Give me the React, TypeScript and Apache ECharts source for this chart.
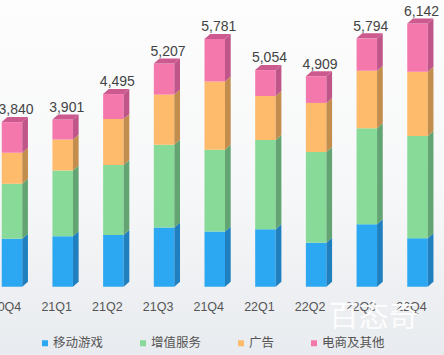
import React, { useEffect, useRef } from "react";
import * as echarts from "echarts";

const categories = ["20Q4", "21Q1", "21Q2", "21Q3", "21Q4", "22Q1", "22Q2", "22Q3", "22Q4"];
const mobileGames = [1119, 1175, 1206, 1379, 1285, 1339, 1025, 1456, 1129];
const valueAdded = [1282, 1537, 1633, 1934, 1909, 2083, 2120, 2239, 2386];
const advertising = [725, 723, 1073, 1169, 1596, 1026, 1142, 1344, 1499];
const ecommerce = [714, 466, 583, 725, 991, 606, 622, 755, 1128];
const totals = [3840, 3901, 4495, 5207, 5781, 5054, 4909, 5794, 6142];
const seriesNames = ["移动游戏", "增值服务", "广告", "电商及其他"];

const FRONT = ["#2ba8f1", "#88da98", "#fdbb6b", "#f578ad"];
const SIDE = ["#1f7fbf", "#62a572", "#c38d4d", "#c0558a"];
const TOP_CAP = "#cc5a8e";

const FONT = "'Liberation Sans', 'Noto Sans CJK SC', sans-serif";

export default function App() {
  const ref = useRef<HTMLDivElement>(null);
  useEffect(() => {
    if (!ref.current) return;
    const chart = echarts.init(ref.current, null, { renderer: "svg" });
    const all = [mobileGames, valueAdded, advertising, ecommerce];
    const FW = 20.5;
    const DX = 5.7;
    const DY = 5;
    const series = all.map((vals, s) => {
      const data = vals.map((v, i) => {
        let base = 0;
        for (let k = 0; k < s; k++) base += all[k][i];
        return [i, base, base + v];
      });
      const isTop = s === all.length - 1;
      return {
        type: "custom",
        name: seriesNames[s],
        itemStyle: { color: FRONT[s] },
        encode: { x: 0, y: [1, 2] },
        data,
        renderItem: (params: any, api: any) => {
          const idx = api.value(0);
          const b = api.coord([idx, api.value(1)]);
          const t = api.coord([idx, api.value(2)]);
          const x0 = b[0] - 4.25;
          const x1 = x0 + FW;
          const yb = b[1];
          const yt = t[1];
          const children: any[] = [
            {
              type: "rect",
              shape: { x: x0, y: yt, width: FW, height: yb - yt },
              style: { fill: FRONT[s] },
            },
            {
              type: "polygon",
              shape: {
                points: [
                  [x1, yt],
                  [x1 + DX, yt - DY],
                  [x1 + DX, yb - DY],
                  [x1, yb],
                ],
              },
              style: { fill: SIDE[s] },
            },
          ];
          if (isTop) {
            children.push({
              type: "polygon",
              shape: {
                points: [
                  [x0, yt],
                  [x0 + DX, yt - DY],
                  [x1 + DX, yt - DY],
                  [x1, yt],
                ],
              },
              style: { fill: TOP_CAP },
            });
            children.push({
              type: "text",
              x: x0 + FW / 2 + 4,
              y: yt - 12.7,
              style: {
                text: totals[idx].toLocaleString("en-US"),
                align: "center",
                verticalAlign: "middle",
                fontSize: 14,
                fontFamily: FONT,
                fill: "#444",
              },
            });
          }
          return { type: "group", children };
        },
      };
    });

    chart.setOption({
      animation: false,
      backgroundColor: "transparent",
      grid: {
        left: -19.35,
        right: 7.15,
        top: 8.1,
        bottom: 68.3,
        containLabel: false,
        outerBoundsMode: "none",
      },
      xAxis: {
        type: "category",
        data: categories,
        axisLine: { show: false },
        axisTick: { show: false },
        axisLabel: { color: "#555", fontSize: 12.5, fontFamily: FONT, margin: 14, interval: 0 },
      },
      yAxis: {
        type: "value",
        min: 0,
        max: 6500,
        show: false,
        splitLine: { show: false },
      },
      legend: {
        data: seriesNames,
        left: 42,
        top: 337,
        padding: 0,
        icon: "rect",
        itemWidth: 6,
        itemHeight: 6,
        itemGap: 37,
        textStyle: { color: "#555", fontSize: 12.5, fontFamily: FONT },
      },
      graphic: [
        {
          type: "text",
          x: 373.7,
          y: 313,
          z: 100,
          style: {
            text: "百态奇",
            align: "center",
            verticalAlign: "middle",
            fontSize: 30,
            fontFamily: "'Noto Sans CJK SC', sans-serif",
            fill: "rgba(255,255,255,0.9)",
            shadowBlur: 3,
            shadowColor: "rgba(0,0,0,0.15)",
          },
        },
      ],
      series,
    });
    return () => chart.dispose();
  }, []);
  return (
    <div
      style={{
        position: "fixed",
        left: 0,
        top: 0,
        width: 444,
        height: 355,
        background: "linear-gradient(180deg, #fdfdfd 0%, #f6f7f8 55%, #e8ebef 100%)",
      }}
    >
      <div ref={ref} style={{ width: 444, height: 355 }} />
    </div>
  );
}
